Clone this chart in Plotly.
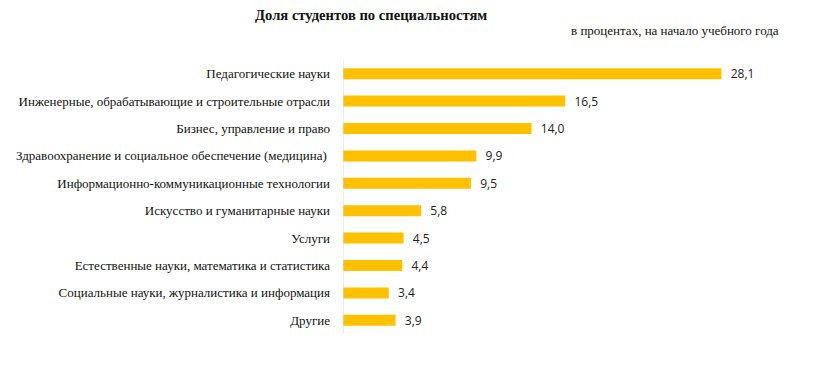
import plotly.graph_objects as go

categories = [
    "Педагогические науки",
    "Инженерные, обрабатывающие и строительные отрасли",
    "Бизнес, управление и право",
    "Здравоохранение и социальное обеспечение (медицина) ",
    "Информационно-коммуникационные технологии",
    "Искусство и гуманитарные науки",
    "Услуги",
    "Естественные науки, математика и статистика",
    "Социальные науки, журналистика и информация",
    "Другие",
]
values = [28.1, 16.5, 14.0, 9.9, 9.5, 5.8, 4.5, 4.4, 3.4, 3.9]
value_labels = ["  " + f"{v:.1f}".replace(".", ",") for v in values]

title_text = "<b>Доля студентов по специальностям</b>"
subtitle_text = "в процентах, на начало учебного года"

# page body has an 8px default margin
OFF = 8
W, H = 815, 369
L, R, T, B = 343 - OFF, 41 + OFF, 60 - OFF, 35 + OFF
PW, PH = W - L - R, H - T - B


def px_x(x):
    return (x - OFF - L) / PW


def px_y(y):
    return 1 + (T - (y - OFF)) / PH


fig = go.Figure(go.Bar(
    x=values, y=categories, orientation="h",
    marker=dict(color="#FFC000", line=dict(width=0)),
    text=value_labels, textposition="outside", cliponaxis=False,
    constraintext="none",
    textfont=dict(family="Open Sans", size=12, color="#222222"),
    width=0.4,
))

fig.update_layout(
    width=W, height=H,
    margin=dict(l=L, r=R, t=T, b=B, autoexpand=False),
    paper_bgcolor="white", plot_bgcolor="white",
    showlegend=False,
    xaxis=dict(range=[0, 32], visible=False, fixedrange=True, automargin=False),
    yaxis=dict(
        autorange="reversed", showgrid=False, zeroline=False, automargin=False,
        showline=False, ticks="", ticklabelstandoff=12,
        tickfont=dict(family="Liberation Serif", size=13, color="#111111"),
    ),
    shapes=[dict(type="line", xref="x", yref="paper", x0=0, x1=0, y0=0, y1=1,
                 line=dict(color="#D9D9D9", width=1))],
    annotations=[
        dict(text=title_text, xref="paper", yref="paper",
             x=px_x(371), y=px_y(15),
             xanchor="center", yanchor="middle", showarrow=False,
             font=dict(family="Liberation Serif", size=14.6, color="#111111")),
        dict(text=subtitle_text, xref="paper", yref="paper",
             x=px_x(781), y=px_y(31),
             xanchor="right", yanchor="middle", showarrow=False,
             font=dict(family="Liberation Serif", size=13, color="#111111")),
    ],
)

fig.write_html("out.html")
